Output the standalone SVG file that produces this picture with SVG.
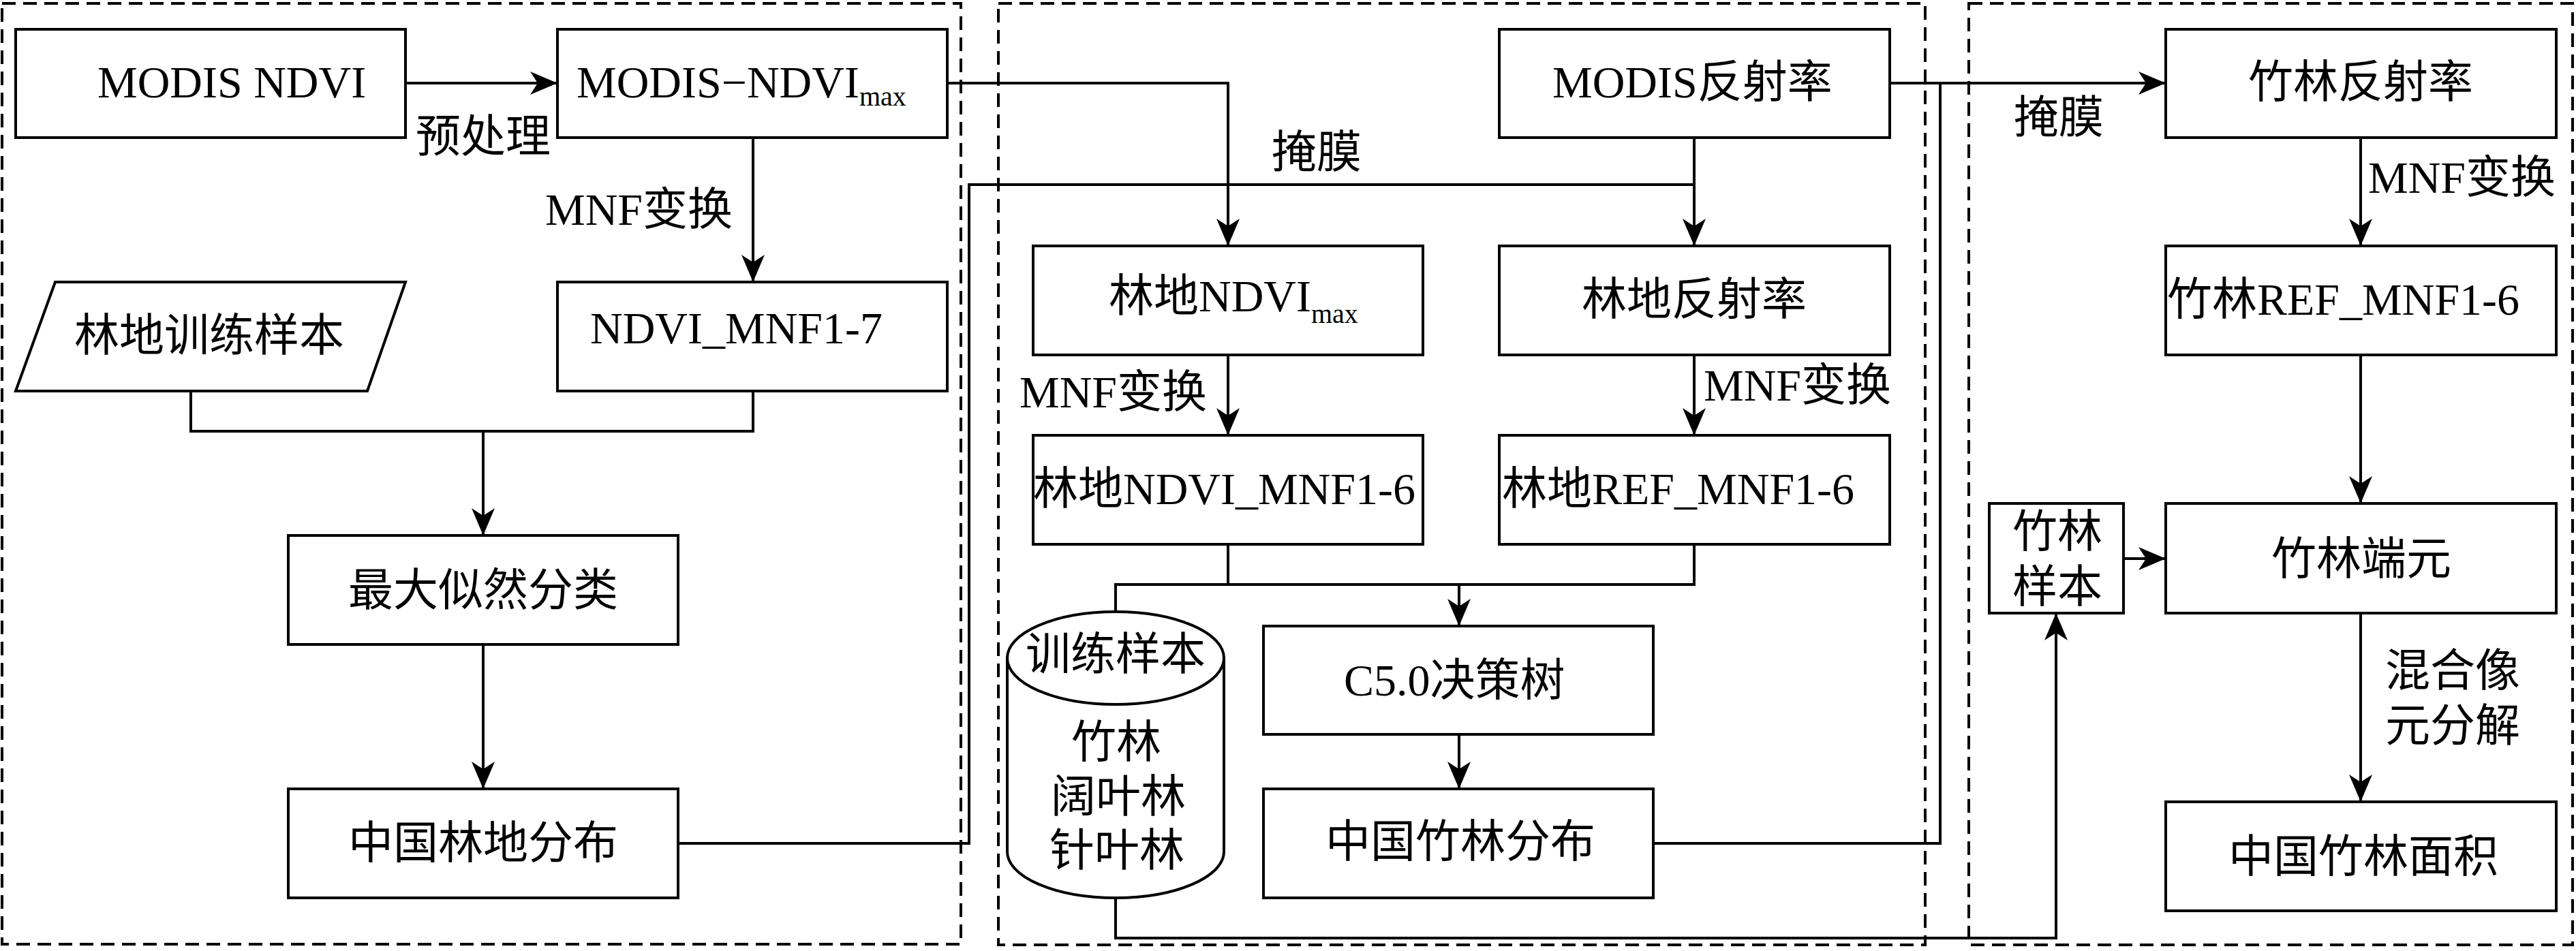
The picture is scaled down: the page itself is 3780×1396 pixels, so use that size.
<svg xmlns="http://www.w3.org/2000/svg" width="3780" height="1396" viewBox="0 0 3780 1396">
<style>
.panel{fill:none;stroke:#000;stroke-width:4;stroke-dasharray:20 11}
.box{fill:#fff;stroke:#000;stroke-width:4}
.ln{fill:none;stroke:#000;stroke-width:4}
.ar{fill:none;stroke:#000;stroke-width:4;marker-end:url(#arr)}
text{font-family:"Liberation Serif","Noto Sans CJK SC",serif;font-size:66px;fill:#000}
.sub{font-size:40px}
</style>
<defs>
<marker id="arr" markerUnits="userSpaceOnUse" markerWidth="44" markerHeight="36" viewBox="-42 -18 44 36" refX="0" refY="0" orient="auto">
<path d="M0,0 L-40,-17 L-29,0 L-40,17 Z" fill="#000"/>
</marker>
</defs>
<rect width="3780" height="1396" fill="#fff"/>
<g id="panels">
<rect class="panel" x="3" y="5" width="1407" height="1381"/>
<rect class="panel" x="1465" y="5" width="1360" height="1382"/>
<rect class="panel" x="2889" y="5" width="886" height="1382"/>
</g>
<g id="connectors">
<path class="ar" d="M595,122 L818,122"/>
<path class="ar" d="M1105,202 L1105,414"/>
<path class="ar" d="M1390,122 L1802,122 L1802,361"/>
<path class="ln" d="M280,574 L280,633 L1105,633 L1105,574"/>
<path class="ar" d="M709,633 L709,786"/>
<path class="ar" d="M709,946 L709,1158"/>
<path class="ln" d="M995,1238 L1422,1238 L1422,271 L2486,271"/>
<path class="ar" d="M2486,202 L2486,361"/>
<path class="ar" d="M1802,521 L1802,639"/>
<path class="ar" d="M2486,521 L2486,639"/>
<path class="ln" d="M1802,799 L1802,858 M2486,799 L2486,858 L1637,858 L1637,898"/>
<path class="ar" d="M2141,858 L2141,919"/>
<path class="ar" d="M2141,1078 L2141,1158"/>
<path class="ar" d="M2773,122 L3178,122"/>
<path class="ln" d="M2426,1238 L2847,1238 L2847,122"/>
<path class="ar" d="M3464,202 L3464,361"/>
<path class="ar" d="M3464,521 L3464,739"/>
<path class="ar" d="M1637,1318 L1637,1377 L3017,1377 L3017,900"/>
<path class="ar" d="M3116,820 L3178,820"/>
<path class="ar" d="M3464,900 L3464,1177"/>
</g>
<g id="labels">
<text x="610" y="223">预处理</text>
<text x="800" y="330">MNF变换</text>
<text x="1866" y="246">掩膜</text>
<text x="1496" y="598">MNF变换</text>
<text x="2500" y="588">MNF变换</text>
<text x="2955" y="195">掩膜</text>
<text x="3475" y="283">MNF变换</text>
<text x="3500" y="1007">混合像</text>
<text x="3500" y="1088">元分解</text>
</g>
<g id="n-modis-ndvi"><rect class="box" x="23" y="43" width="572" height="159"/><text x="143" y="143">MODIS NDVI</text></g>
<g id="n-modis-ndvimax"><rect class="box" x="818" y="43" width="572" height="159"/><text x="846" y="143">MODIS−NDVI<tspan class="sub" dy="12">max</tspan></text></g>
<g id="n-forest-sample"><path class="box" d="M81,414 L595,414 L539,574 L23,574 Z"/><text x="109" y="515">林地训练样本</text></g>
<g id="n-ndvi-mnf17"><rect class="box" x="818" y="414" width="572" height="160"/><text x="866" y="504">NDVI_MNF1-7</text></g>
<g id="n-mlc"><rect class="box" x="423" y="786" width="572" height="160"/><text x="511" y="889">最大似然分类</text></g>
<g id="n-forest-dist"><rect class="box" x="423" y="1158" width="572" height="160"/><text x="511" y="1260">中国林地分布</text></g>
<g id="n-modis-ref"><rect class="box" x="2200" y="43" width="573" height="159"/><text x="2278" y="143">MODIS反射率</text></g>
<g id="n-forest-ndvimax"><rect class="box" x="1516" y="361" width="572" height="160"/><text x="1627" y="457">林地NDVI<tspan class="sub" dy="17">max</tspan></text></g>
<g id="n-forest-ref"><rect class="box" x="2200" y="361" width="573" height="160"/><text x="2321" y="462">林地反射率</text></g>
<g id="n-forest-ndvi-mnf"><rect class="box" x="1516" y="639" width="572" height="160"/><text x="1516" y="740">林地NDVI_MNF1-6</text></g>
<g id="n-forest-ref-mnf"><rect class="box" x="2200" y="639" width="573" height="160"/><text x="2204" y="740">林地REF_MNF1-6</text></g>
<g id="n-train-samples">
<path class="box" d="M1478,966 L1478,1250 A159,68 0 0 0 1796,1250 L1796,966 Z"/>
<ellipse class="box" cx="1637" cy="966" rx="159" ry="68"/>
<text x="1505" y="983">训练样本</text>
<text x="1572" y="1112">竹林</text>
<text x="1542" y="1192">阔叶林</text>
<text x="1540" y="1271">针叶林</text>
</g>
<g id="n-c50"><rect class="box" x="1854" y="919" width="572" height="159"/><text x="1972" y="1021">C5.0决策树</text></g>
<g id="n-bamboo-dist"><rect class="box" x="1854" y="1158" width="572" height="160"/><text x="1945" y="1258">中国竹林分布</text></g>
<g id="n-bamboo-ref"><rect class="box" x="3178" y="43" width="573" height="159"/><text x="3299" y="143">竹林反射率</text></g>
<g id="n-bamboo-ref-mnf"><rect class="box" x="3178" y="361" width="573" height="160"/><text x="3180" y="462">竹林REF_MNF1-6</text></g>
<g id="n-bamboo-sample"><rect class="box" x="2919" y="739" width="197" height="161"/><text x="2953" y="803">竹林</text><text x="2953" y="884">样本</text></g>
<g id="n-bamboo-endmember"><rect class="box" x="3178" y="739" width="573" height="161"/><text x="3333" y="843">竹林端元</text></g>
<g id="n-bamboo-area"><rect class="box" x="3178" y="1177" width="573" height="160"/><text x="3270" y="1280">中国竹林面积</text></g>
</svg>
